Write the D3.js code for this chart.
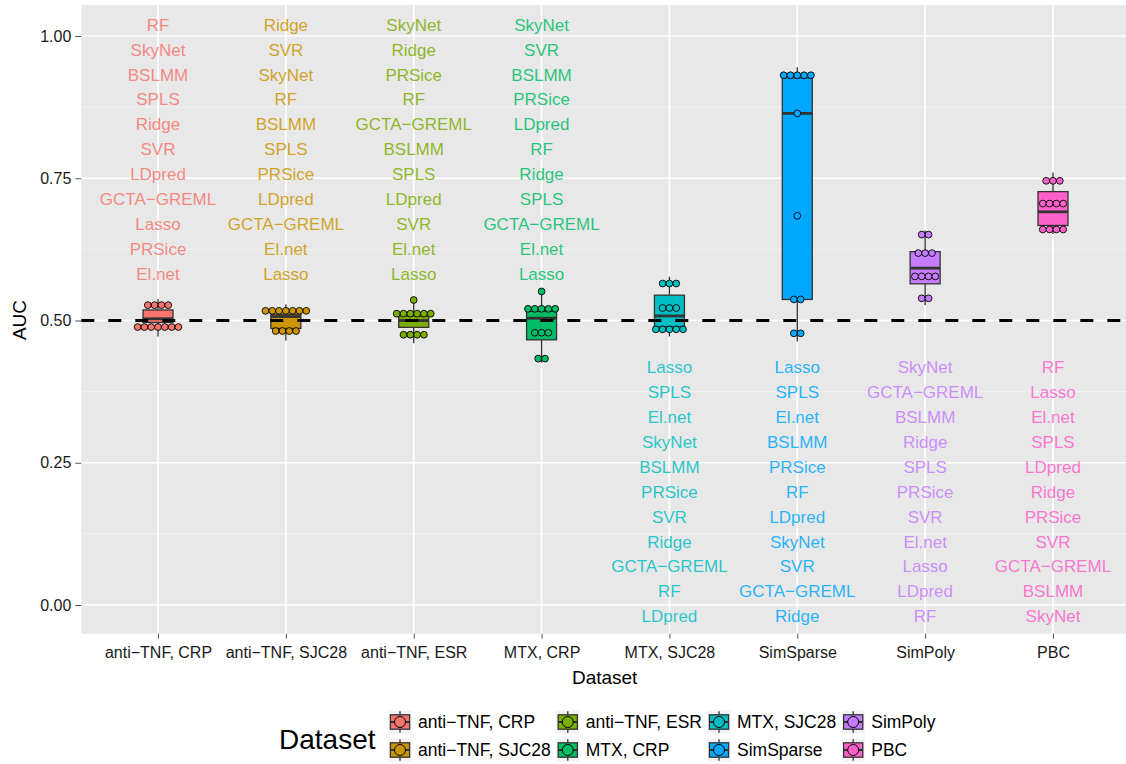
<!DOCTYPE html>
<html>
<head>
<meta charset="utf-8">
<script src="https://cdn.jsdelivr.net/npm/d3@7"></script>
<style>
  body { margin: 0; background: #fff; }
  text { font-family: "Liberation Sans", Arial, Helvetica, sans-serif; }
</style>
</head>
<body>
<svg id="chart" width="1126" height="764"></svg>
<script>
// datasets on the x axis, in order
const datasets = ["anti\u2212TNF, CRP", "anti\u2212TNF, SJC28", "anti\u2212TNF, ESR", "MTX, CRP",
                  "MTX, SJC28", "SimSparse", "SimPoly", "PBC"];
const colors = ["#F8766D", "#CD9600", "#7CAE00", "#00BE67", "#00BFC4", "#00A9FF", "#C77CFF", "#FF61CC"];

// AUC of the 11 methods per dataset
const aucAntiTnfCrp   = [0.472, 0.483, 0.494, 0.499, 0.501, 0.503, 0.505, 0.516, 0.521, 0.530, 0.538];
const aucAntiTnfSjc28 = [0.465, 0.470, 0.474, 0.498, 0.506, 0.507, 0.509, 0.510, 0.512, 0.520, 0.528];
const aucAntiTnfEsr   = [0.460, 0.472, 0.486, 0.490, 0.497, 0.500, 0.503, 0.506, 0.510, 0.527, 0.536];
const aucMtxCrp       = [0.426, 0.440, 0.462, 0.470, 0.495, 0.504, 0.508, 0.512, 0.520, 0.537, 0.551];
const aucMtxSjc28     = [0.472, 0.480, 0.486, 0.492, 0.497, 0.508, 0.520, 0.536, 0.553, 0.565, 0.577];
const aucSimSparse    = [0.463, 0.492, 0.536, 0.538, 0.684, 0.864, 0.917, 0.925, 0.928, 0.935, 0.945];
const aucSimPoly      = [0.527, 0.551, 0.563, 0.566, 0.585, 0.592, 0.602, 0.607, 0.635, 0.644, 0.658];
const aucPbc          = [0.652, 0.658, 0.666, 0.668, 0.689, 0.691, 0.705, 0.722, 0.731, 0.745, 0.760];

// method names listed in each column, top to bottom
const labAntiTnfCrp   = ["RF","SkyNet","BSLMM","SPLS","Ridge","SVR","LDpred","GCTA\u2212GREML","Lasso","PRSice","El.net"];
const labAntiTnfSjc28 = ["Ridge","SVR","SkyNet","RF","BSLMM","SPLS","PRSice","LDpred","GCTA\u2212GREML","El.net","Lasso"];
const labAntiTnfEsr   = ["SkyNet","Ridge","PRSice","RF","GCTA\u2212GREML","BSLMM","SPLS","LDpred","SVR","El.net","Lasso"];
const labMtxCrp       = ["SkyNet","SVR","BSLMM","PRSice","LDpred","RF","Ridge","SPLS","GCTA\u2212GREML","El.net","Lasso"];
const labMtxSjc28     = ["Lasso","SPLS","El.net","SkyNet","BSLMM","PRSice","SVR","Ridge","GCTA\u2212GREML","RF","LDpred"];
const labSimSparse    = ["Lasso","SPLS","El.net","BSLMM","PRSice","RF","LDpred","SkyNet","SVR","GCTA\u2212GREML","Ridge"];
const labSimPoly      = ["SkyNet","GCTA\u2212GREML","BSLMM","Ridge","SPLS","PRSice","SVR","El.net","Lasso","LDpred","RF"];
const labPbc          = ["RF","Lasso","El.net","SPLS","LDpred","Ridge","PRSice","SVR","GCTA\u2212GREML","BSLMM","SkyNet"];

const yTicks = [0, 0.25, 0.5, 0.75, 1];
const yMinor = [0.125, 0.375, 0.625, 0.875];
const refLine = 0.5;

const aucs = [aucAntiTnfCrp, aucAntiTnfSjc28, aucAntiTnfEsr, aucMtxCrp, aucMtxSjc28, aucSimSparse, aucSimPoly, aucPbc];
const labs = [labAntiTnfCrp, labAntiTnfSjc28, labAntiTnfEsr, labMtxCrp, labMtxSjc28, labSimSparse, labSimPoly, labPbc];

const svg = d3.select("#chart");
const panel = {left: 81.3, right: 1129.7, top: 5, bottom: 633.7};

const x = d3.scalePoint().domain(datasets).range([panel.left, panel.right]).padding(0.6);
const y = d3.scaleLinear().domain([0, 1]).range([605, 36]);

// panel + grid
svg.append("rect").attr("x", panel.left).attr("y", panel.top)
  .attr("width", panel.right - panel.left).attr("height", panel.bottom - panel.top)
  .attr("fill", "#E8E8E8");
svg.append("g").selectAll("line").data(yMinor).enter().append("line")
  .attr("x1", panel.left).attr("x2", panel.right)
  .attr("y1", d => y(d)).attr("y2", d => y(d))
  .attr("stroke", "#F4F4F4").attr("stroke-width", 0.8);
svg.append("g").selectAll("line").data(yTicks).enter().append("line")
  .attr("x1", panel.left).attr("x2", panel.right)
  .attr("y1", d => y(d)).attr("y2", d => y(d))
  .attr("stroke", "#fff").attr("stroke-width", 1.6);
svg.append("g").selectAll("line").data(datasets).enter().append("line")
  .attr("x1", d => x(d)).attr("x2", d => x(d))
  .attr("y1", panel.top).attr("y2", panel.bottom)
  .attr("stroke", "#fff").attr("stroke-width", 1.6);

// axes
const yAxis = d3.axisLeft(y).tickValues(yTicks).tickFormat(d3.format(".2f")).tickSize(6).tickPadding(4);
const gy = svg.append("g").attr("transform", "translate(" + panel.left + ",0)").call(yAxis);
const xAxis = d3.axisBottom(x).tickSize(5).tickPadding(8);
const gx = svg.append("g").attr("transform", "translate(0," + panel.bottom + ")").call(xAxis);
[gx, gy].forEach(g => {
  g.select(".domain").remove();
  g.selectAll(".tick line").attr("stroke", "#555").attr("stroke-width", 1);
  g.selectAll(".tick text").attr("fill", "#1a1a1a").attr("font-size", 16)
    .style("font-family", "'Liberation Sans', Arial, sans-serif");
});

svg.append("text").attr("x", (panel.left + 1126) / 2 + 1).attr("y", 684)
  .attr("text-anchor", "middle").attr("font-size", 19).text("Dataset");
svg.append("text").attr("transform", "translate(26,320) rotate(-90)")
  .attr("text-anchor", "middle").attr("font-size", 19).text("AUC");

// box stats like ggplot (type 7 quantiles, 1.5 IQR whiskers)
const boxW = 30;
const stats = aucs.map((v, i) => {
  const s = v.slice().sort(d3.ascending);
  const q1 = d3.quantile(s, 0.25), med = d3.quantile(s, 0.5), q3 = d3.quantile(s, 0.75);
  const iqr = q3 - q1;
  const lo = d3.min(s.filter(d => d >= q1 - 1.5 * iqr));
  const hi = d3.max(s.filter(d => d <= q3 + 1.5 * iqr));
  return {key: datasets[i], color: colors[i], q1, med, q3, lo, hi};
});

const boxes = svg.append("g").selectAll("g").data(stats).enter().append("g");
boxes.append("line").attr("x1", d => x(d.key)).attr("x2", d => x(d.key))
  .attr("y1", d => y(d.hi)).attr("y2", d => y(d.q3)).attr("stroke", "#333").attr("stroke-width", 1.3);
boxes.append("line").attr("x1", d => x(d.key)).attr("x2", d => x(d.key))
  .attr("y1", d => y(d.q1)).attr("y2", d => y(d.lo)).attr("stroke", "#333").attr("stroke-width", 1.3);
boxes.append("rect").attr("x", d => x(d.key) - boxW / 2).attr("width", boxW)
  .attr("y", d => y(d.q3)).attr("height", d => y(d.q1) - y(d.q3))
  .attr("fill", d => d.color).attr("stroke", "#333").attr("stroke-width", 1.3);
boxes.append("line").attr("x1", d => x(d.key) - boxW / 2).attr("x2", d => x(d.key) + boxW / 2)
  .attr("y1", d => y(d.med)).attr("y2", d => y(d.med)).attr("stroke", "#333").attr("stroke-width", 2.8);

// dashed reference line at 0.5
svg.append("line").attr("x1", panel.left).attr("x2", panel.right)
  .attr("y1", y(refLine)).attr("y2", y(refLine))
  .attr("stroke", "#000").attr("stroke-width", 3).attr("stroke-dasharray", "13,14");

// dot-density binning (as geom_dotplot, binaxis y, stackdir center)
const binwidth = 0.035;
function dotBins(values) {
  const s = values.slice().sort(d3.ascending);
  const bins = [];
  let end = -Infinity, cur = null;
  s.forEach(v => {
    if (v >= end) { cur = []; bins.push(cur); end = v + binwidth; }
    cur.push(v);
  });
  return bins.map(b => ({center: (d3.min(b) + d3.max(b)) / 2, count: b.length}));
}
const dotR = 3.4, dotStep = 6.8;
const dots = [];
aucs.forEach((v, i) => {
  dotBins(v).forEach(b => {
    for (let j = 0; j < b.count; j++) {
      dots.push({key: datasets[i], color: colors[i], value: b.center, off: (j - (b.count - 1) / 2) * dotStep});
    }
  });
});
svg.append("g").selectAll("circle").data(dots).enter().append("circle")
  .attr("cx", d => x(d.key) + d.off).attr("cy", d => y(d.value)).attr("r", dotR)
  .attr("fill", d => d.color).attr("stroke", "#000").attr("stroke-width", 0.9);

// method labels
const labelStep = 0.04376, labelTopStart = 1.02, labelBottomStart = 0.418;
const labelData = [];
labs.forEach((arr, i) => {
  const start = i < 4 ? labelTopStart : labelBottomStart;
  arr.forEach((name, j) => labelData.push({key: datasets[i], color: colors[i], name, pos: start - j * labelStep}));
});
svg.append("g").selectAll("text").data(labelData).enter().append("text")
  .attr("x", d => x(d.key)).attr("y", d => y(d.pos)).attr("dy", "0.36em")
  .attr("text-anchor", "middle").attr("font-size", 17).attr("fill", d => d.color)
  .attr("fill-opacity", 0.85).text(d => d.name);

// legend
svg.append("text").attr("x", 279).attr("y", 749).attr("font-size", 28).text("Dataset");
const keyS = 24, rowY = [710, 738];
const legend = svg.append("g");
let colX = 388;
for (let c = 0; c < 4; c++) {
  let maxW = 0;
  for (let r = 0; r < 2; r++) {
    const i = c * 2 + r;
    const g = legend.append("g").attr("transform", "translate(" + colX + "," + rowY[r] + ")");
    g.append("rect").attr("width", keyS).attr("height", keyS).attr("fill", "#F2F2F2").attr("stroke", "#fff");
    g.append("line").attr("x1", keyS / 2).attr("x2", keyS / 2).attr("y1", keyS * 0.05).attr("y2", keyS * 0.95)
      .attr("stroke", "#333").attr("stroke-width", 1.3);
    g.append("rect").attr("x", keyS * 0.1).attr("y", keyS * 0.2).attr("width", keyS * 0.8).attr("height", keyS * 0.6)
      .attr("fill", colors[i]).attr("stroke", "#333").attr("stroke-width", 1.3);
    g.append("line").attr("x1", keyS * 0.1).attr("x2", keyS * 0.9).attr("y1", keyS / 2).attr("y2", keyS / 2)
      .attr("stroke", "#333").attr("stroke-width", 2);
    g.append("circle").attr("cx", keyS / 2).attr("cy", keyS / 2).attr("r", 5.5)
      .attr("fill", colors[i]).attr("stroke", "#000").attr("stroke-width", 1);
    const t = g.append("text").attr("x", keyS + 6).attr("y", keyS / 2).attr("dy", "0.36em")
      .attr("font-size", 17.5).text(datasets[i]);
    maxW = Math.max(maxW, t.node().getComputedTextLength());
  }
  colX += keyS + 6 + maxW + 5;
}
</script>
</body>
</html>
